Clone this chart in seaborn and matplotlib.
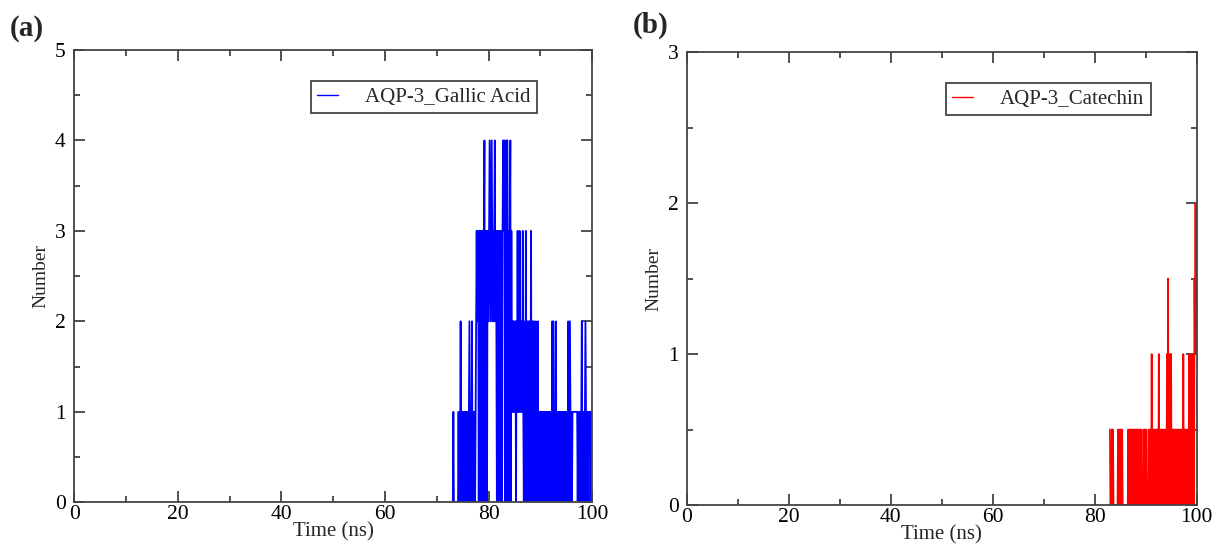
import numpy as np
import pandas as pd
import seaborn as sns
from matplotlib import pyplot as plt
from matplotlib.ticker import MultipleLocator

sns.set_theme(style='ticks')
plt.rcParams['font.family'] = ['Liberation Serif', 'DejaVu Serif']

# Hydrogen-bond count, one digit per frame (0.1 ns spacing)
gallic_start = 73.0
gallic_counts = (
    '0010000000'  # 73
    '0010102010'  # 74
    '1010101010'  # 75
    '1012101020'  # 76
    '1011012323'  # 77
    '3031302303'  # 78
    '0340303032'  # 79
    '2343234323'  # 80
    '2342320303'  # 81
    '3030230343'  # 82
    '4303404303'  # 83
    '0340312121'  # 84
    '2120213121'  # 85
    '3121213101'  # 86
    '2030202120'  # 87
    '2130202021'  # 88
    '0201020101'  # 89
    '0101010101'  # 90
    '0101010101'  # 91
    '0102020101'  # 92
    '2010101010'  # 93
    '1010101010'  # 94
    '1010201210'  # 95
    '1011111111'  # 96
    '1101010101'  # 97
    '2010101210'  # 98
    '1010111101'  # 99
    '0'           # 100
)

# Catechin: digit = count in half units (0.5 steps on the axis)
catechin_start = 83.0
catechin_halves = (
    '1000101000'  # 83
    '0000001010'  # 84
    '1010100000'  # 85
    '0000001010'  # 86
    '1010101010'  # 87
    '1010101010'  # 88
    '1010000101'  # 89
    '0100001010'  # 90
    '1020101010'  # 91
    '1010102010'  # 92
    '1010101010'  # 93
    '1020301020'  # 94
    '2010101010'  # 95
    '1010101010'  # 96
    '1010201010'  # 97
    '1010102010'  # 98
    '2010203242'  # 99
    '3'           # 100
)

frame_step = 0.1


def series(start, digits, scale):
    vals = np.array([int(c) for c in digits], dtype=float) * scale
    t = start + frame_step * np.arange(len(vals))
    return pd.DataFrame({'Time (ns)': t, 'Number': vals})


gallic = series(gallic_start, gallic_counts, 1.0)
catechin = series(catechin_start, catechin_halves, 0.5)

fig = plt.figure(figsize=(12.16, 5.49), dpi=100)
ax1 = fig.add_axes([0.061, 0.085, 0.426, 0.824])
ax2 = fig.add_axes([0.565, 0.080, 0.419, 0.825])

panels = [
    (ax1, gallic, '#0000ff', 'AQP-3_Gallic Acid', 5, (0.905, 0.945)),
    (ax2, catechin, '#ff0000', 'AQP-3_Catechin', 3, (0.922, 0.945)),
]

for ax, df, color, name, ymax, anchor in panels:
    sns.lineplot(data=df, x='Time (ns)', y='Number', ax=ax, color=color,
                 linewidth=1.3, estimator=None, sort=False, label=name)
    ax.set_xlim(0, 100)
    ax.set_ylim(0, ymax)
    ax.xaxis.set_major_locator(MultipleLocator(20))
    ax.xaxis.set_minor_locator(MultipleLocator(10))
    ax.yaxis.set_major_locator(MultipleLocator(1))
    ax.yaxis.set_minor_locator(MultipleLocator(0.5))
    ax.tick_params(which='both', direction='in', top=True, right=True,
                   labelsize=15.5, width=1.2, colors='#333333', labelcolor='black')
    ax.tick_params(axis='x', pad=2)
    ax.tick_params(axis='y', pad=6)
    ax.tick_params(which='major', length=8)
    ax.tick_params(which='minor', length=4.5)
    for s in ax.spines.values():
        s.set_linewidth(1.3)
        s.set_color('#444444')
    ax.set_xlabel('Time (ns)', fontsize=15, labelpad=-1)
    ax.set_ylabel('Number', fontsize=14, labelpad=4)
    leg = ax.legend(loc='upper right', bbox_to_anchor=anchor, fontsize=15,
                    handlelength=1.0, handletextpad=1.3, borderpad=0.3,
                    borderaxespad=0.3, fancybox=False, framealpha=1)
    leg.get_frame().set_edgecolor('#444444')
    leg.get_frame().set_linewidth(1.3)
    leg.get_lines()[0].set_linewidth(1.0)

fig.text(0.008, 0.935, '(a)', fontsize=21, fontweight='bold')
fig.text(0.520, 0.940, '(b)', fontsize=21, fontweight='bold')

plt.savefig('out.png', dpi=100)
